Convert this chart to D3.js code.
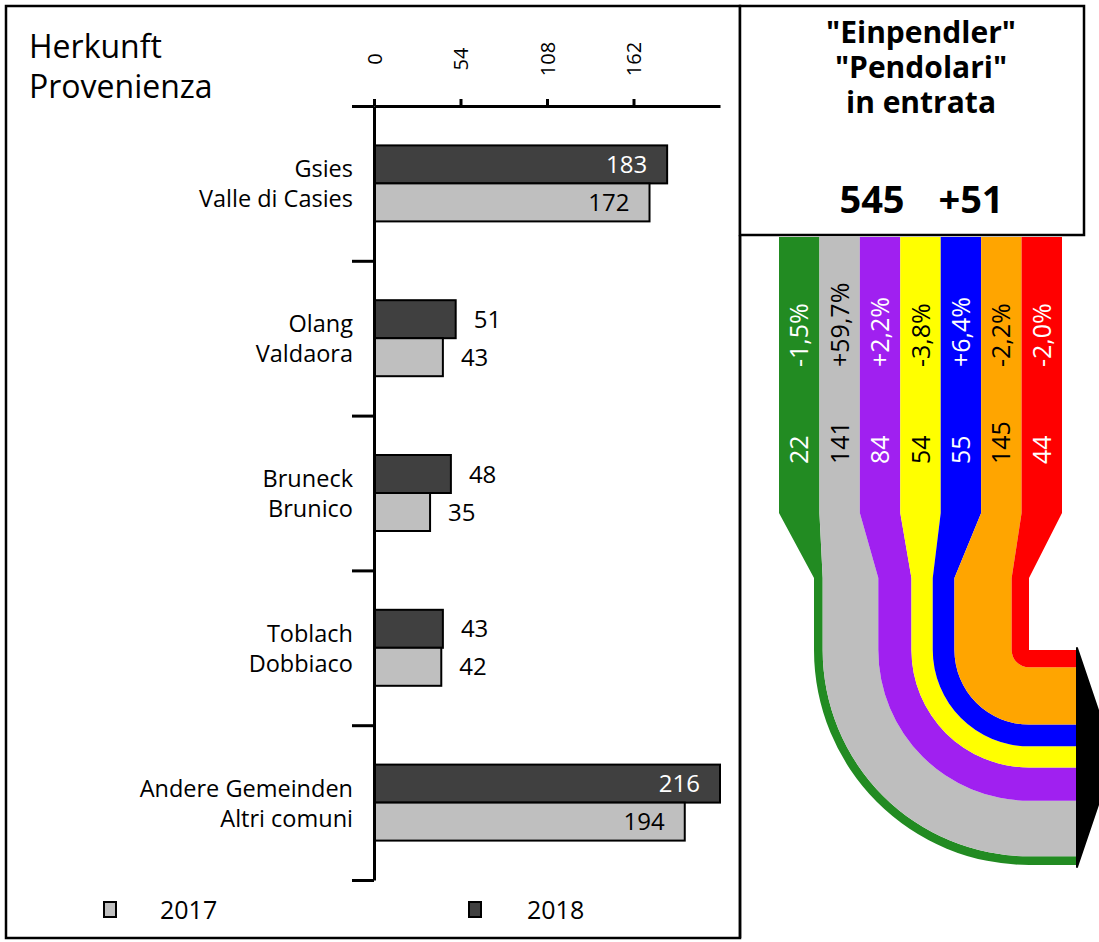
<!DOCTYPE html>
<html>
<head>
<meta charset="utf-8">
<script src="https://cdn.jsdelivr.net/npm/d3@7"></script>
<style>
  body { margin: 0; background: #fff; }
  text { font-family: "Open Sans", "DejaVu Sans", sans-serif; }
</style>
</head>
<body>
<div id="chart"></div>
<script>
//Bar chart data
var categories = ["Gsies", "Olang", "Bruneck", "Toblach", "Andere Gemeinden"];
var labelsIt = ["Valle di Casies", "Valdaora", "Brunico", "Dobbiaco", "Altri comuni"];
var values2018 = [183, 51, 48, 43, 216];
var values2017 = [172, 43, 35, 42, 194];
var xTicks = [0, 54, 108, 162];
var years = ["2017", "2018"];

//Flow data
var flowValues = [22, 141, 84, 54, 55, 145, 44];
var flowChanges = ["-1,5%", "+59,7%", "+2,2%", "-3,8%", "+6,4%", "-2,2%", "-2,0%"];
var flowColors = ["#228b22", "#bebebe", "#a020f0", "#ffff00", "#0000ff", "#ffa500", "#ff0000"];
var flowText = ["#fff", "#000", "#fff", "#000", "#fff", "#000", "#fff"];
var total = "545", totalChange = "+51";

var W = 1099, H = 942;
var svg = d3.select("#chart").append("svg")
  .attr("width", W).attr("height", H);

var dark = "#404040", light = "#bfbfbf";

//Frames
svg.append("rect").attr("x", 6).attr("y", 6).attr("width", 734).attr("height", 932)
  .attr("fill", "none").attr("stroke", "#000").attr("stroke-width", 2.5);
svg.append("rect").attr("x", 740).attr("y", 6).attr("width", 344).attr("height", 229)
  .attr("fill", "#fff").attr("stroke", "#000").attr("stroke-width", 2.5);

//Scales
var x = d3.scaleLinear().domain([0, 216]).range([374, 720]);
var y = d3.scaleBand().domain(categories).range([106, 880]);
var yb = d3.scaleLinear().domain([0, categories.length]).range([106, 880]);
var barH = 38;

//Header
svg.append("text").attr("x", 29).attr("y", 58).attr("font-size", 32).text("Herkunft");
svg.append("text").attr("x", 29).attr("y", 98).attr("font-size", 32).text("Provenienza");

//Bars
var g = svg.append("g");
categories.forEach(function(c, i) {
  var cy = y(c) + y.bandwidth() / 2;
  g.append("rect").attr("x", x(0)).attr("y", cy - barH).attr("width", x(values2018[i]) - x(0))
    .attr("height", barH).attr("fill", dark).attr("stroke", "#000").attr("stroke-width", 2);
  g.append("rect").attr("x", x(0)).attr("y", cy).attr("width", x(values2017[i]) - x(0))
    .attr("height", barH).attr("fill", light).attr("stroke", "#000").attr("stroke-width", 2);

  //value labels
  [[values2018[i], cy - barH / 2, "#fff"], [values2017[i], cy + barH / 2, "#000"]].forEach(function(v) {
    var inside = v[0] > 100;
    g.append("text")
      .attr("x", inside ? x(v[0]) - 20 : x(v[0]) + 18)
      .attr("y", v[1]).attr("dy", "0.36em")
      .attr("text-anchor", inside ? "end" : "start")
      .attr("font-size", 24)
      .attr("fill", inside ? v[2] : "#000")
      .text(v[0]);
  });

  //category labels
  g.append("text").attr("x", 353).attr("y", cy - 6).attr("text-anchor", "end")
    .attr("font-size", 23.5).text(c);
  g.append("text").attr("x", 353).attr("y", cy + 24).attr("text-anchor", "end")
    .attr("font-size", 23.5).text(labelsIt[i]);
});

//Axes
var xAxis = svg.append("g").attr("transform", "translate(0,106)")
  .call(d3.axisTop(x).tickValues(xTicks).tickSize(7).tickSizeOuter(0));
xAxis.selectAll("text")
  .attr("transform", "translate(0,-47) rotate(-90)")
  .attr("y", 0).attr("dy", "0.35em").attr("text-anchor", "middle")
  .attr("font-size", 20).attr("font-family", "Open Sans").attr("fill", "#000");
var yAxis = svg.append("g").attr("transform", "translate(374,0)")
  .call(d3.axisLeft(yb).tickValues(d3.range(0, categories.length + 1)).tickFormat("").tickSize(22).tickSizeOuter(0));
svg.selectAll(".domain, .tick line").attr("stroke", "#000").attr("stroke-width", 3);

//Legend
[[light, 104, 160], [dark, 469, 527]].forEach(function(l, i) {
  svg.append("rect").attr("x", l[1]).attr("y", 902).attr("width", 12).attr("height", 15)
    .attr("fill", l[0]).attr("stroke", "#000").attr("stroke-width", 2);
  svg.append("text").attr("x", l[2]).attr("y", 919).attr("font-size", 25).text(years[i]);
});

//Title
var titleLines = ["\"Einpendler\"", "\"Pendolari\"", "in entrata"];
titleLines.forEach(function(t, i) {
  svg.append("text").attr("x", 921).attr("y", 43 + i * 35).attr("text-anchor", "middle")
    .attr("font-size", 30).attr("font-weight", "bold").text(t);
});
svg.append("text").attr("x", 872).attr("y", 213).attr("text-anchor", "middle")
  .attr("font-size", 38).attr("font-weight", "bold").text(total);
svg.append("text").attr("x", 971).attr("y", 213).attr("text-anchor", "middle")
  .attr("font-size", 38).attr("font-weight", "bold").text(totalChange);

//Flow diagram
var col = d3.scaleBand().domain(d3.range(flowValues.length)).range([779, 1062]);
var sum = d3.sum(flowValues);
var fw = d3.scaleLinear().domain([0, sum]).range([0, 215]);
var cx = 1029, cyTurn = 650, yTop = 237, yBend = 513, yNarrow = 578, xEnd = 1077;
var startX = cx - fw(sum);
var offsets = [], acc = 0;
flowValues.forEach(function(v) { offsets.push(acc); acc += v; });

var flow = svg.append("g");
flowValues.forEach(function(v, i) {
  var cL = col(i), cR = col(i) + col.bandwidth();
  var xL = startX + fw(offsets[i]), xR = xL + fw(v);
  var rOut = cx - xL, rIn = cx - xR;
  var p = d3.path();
  p.moveTo(cL, yTop);
  p.lineTo(cR, yTop);
  p.lineTo(cR, yBend);
  p.lineTo(xR, yNarrow);
  p.lineTo(xR, cyTurn);
  if (rIn > 0.1) p.arc(cx, cyTurn, rIn, Math.PI, Math.PI / 2, true);
  p.lineTo(xEnd, cyTurn + rIn);
  p.lineTo(xEnd, cyTurn + rOut);
  p.lineTo(cx, cyTurn + rOut);
  p.arc(cx, cyTurn, rOut, Math.PI / 2, Math.PI, false);
  p.lineTo(xL, yNarrow);
  p.lineTo(cL, yBend);
  p.closePath();
  flow.append("path").attr("d", p.toString()).attr("fill", flowColors[i]);

  var tx = cL + col.bandwidth() / 2;
  flow.append("text").attr("transform", "translate(" + tx + ",367) rotate(-90)")
    .attr("dy", "0.36em").attr("font-size", 25).attr("fill", flowText[i]).text(flowChanges[i]);
  flow.append("text").attr("transform", "translate(" + tx + ",464) rotate(-90)")
    .attr("dy", "0.36em").attr("font-size", 25).attr("fill", flowText[i]).text(v);
});

//Arrow head
var aTop = cyTurn - 2, aBot = cyTurn + fw(sum) + 2;
flow.append("path")
  .attr("d", "M" + xEnd + "," + aTop + "L" + (xEnd + 37) + "," + ((aTop + aBot) / 2) + "L" + xEnd + "," + aBot + "Z")
  .attr("fill", "#000").attr("stroke", "#000").attr("stroke-width", 2).attr("stroke-linejoin", "round");

//Flow panel frame lines
svg.append("line").attr("x1", 740).attr("x2", 740).attr("y1", 235).attr("y2", 938)
  .attr("stroke", "#000").attr("stroke-width", 2.5);
</script>
</body>
</html>
